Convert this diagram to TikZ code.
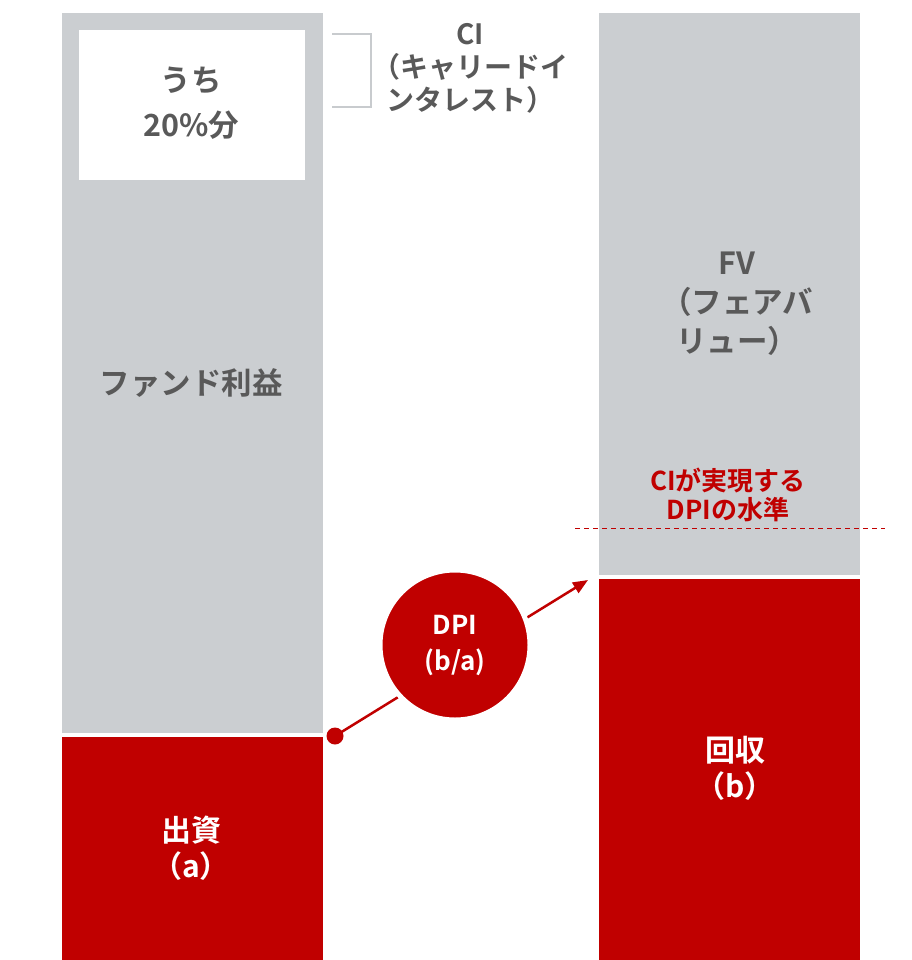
\documentclass[tikz,border=0pt]{standalone}
\usepackage{fontspec}
\setmainfont{Noto Sans CJK JP}[BoldFont={Noto Sans CJK JP Bold}]
\usetikzlibrary{arrows.meta}
\definecolor{bargray}{HTML}{CBCED1}
\definecolor{barred}{HTML}{C00000}
\definecolor{txtgray}{HTML}{595959}
\definecolor{brgray}{HTML}{C8CBCE}
\tikzset{
  graytxt/.style={text=txtgray,align=center,inner sep=0pt,font=\bfseries\fontsize{30.5}{39}\selectfont},
  whitetxt/.style={text=white,align=center,inner sep=0pt,font=\bfseries\fontsize{30}{36}\selectfont},
  redtxt/.style={text=barred,align=center,inner sep=0pt,font=\bfseries\fontsize{26}{29.5}\selectfont},
  citxt/.style={text=txtgray,align=center,inner sep=0pt,font=\bfseries\fontsize{28}{33}\selectfont},
}
\begin{document}
\begin{tikzpicture}[x=1pt,y=-1pt]
\useasboundingbox (0,0) rectangle (911,960);
% left bar
\fill[bargray] (62,13) rectangle (323,733);
\fill[barred] (62,737) rectangle (323,960);
\fill[white] (79,30) rectangle (305,180);
% right bar
\fill[bargray] (599,13) rectangle (860,575);
\fill[barred] (599,579) rectangle (860,960);
% bracket
\draw[brgray,line width=2pt] (332,34) -- (371,34) -- (371,107) -- (332,107);
% dashed level
\draw[barred,line width=1pt,dash pattern=on 5pt off 4pt] (575,528) -- (885,528);
% texts
\node[graytxt] (uchi) at (191,103) {うち\\[6pt]20\%分};
\node[graytxt] (rieki) at (191,383) {ファンド利益};
\node[whitetxt] (shusshi) at (191,848) {出資\\（a）};
\node[citxt] (ci) at (470,68) {CI\\（キャリードイ\\ンタレスト）};
\node[graytxt] (fv) at (737,304) {FV\\（フェアバ\\リュー）};
\node[redtxt] (cidpi) at (728,495) {CIが実現する\\DPIの水準};
\node[whitetxt] (kaishu) at (735,768) {回収\\（b）};
% arrow
\coordinate (start) at (335,736);
\coordinate (tip) at (588,580);
\draw[barred,line width=2.5pt,-{Triangle[length=15pt,width=12pt]}] (start) -- (tip);
\fill[barred] (start) circle (8.5);
\node[circle,fill=barred,draw=white,line width=5pt,minimum size=150pt,inner sep=0pt,
  text=white,align=center,font=\bfseries\fontsize{26}{36}\selectfont] (dpi) at (455,645) {DPI\\(b/a)};
\end{tikzpicture}
\end{document}
